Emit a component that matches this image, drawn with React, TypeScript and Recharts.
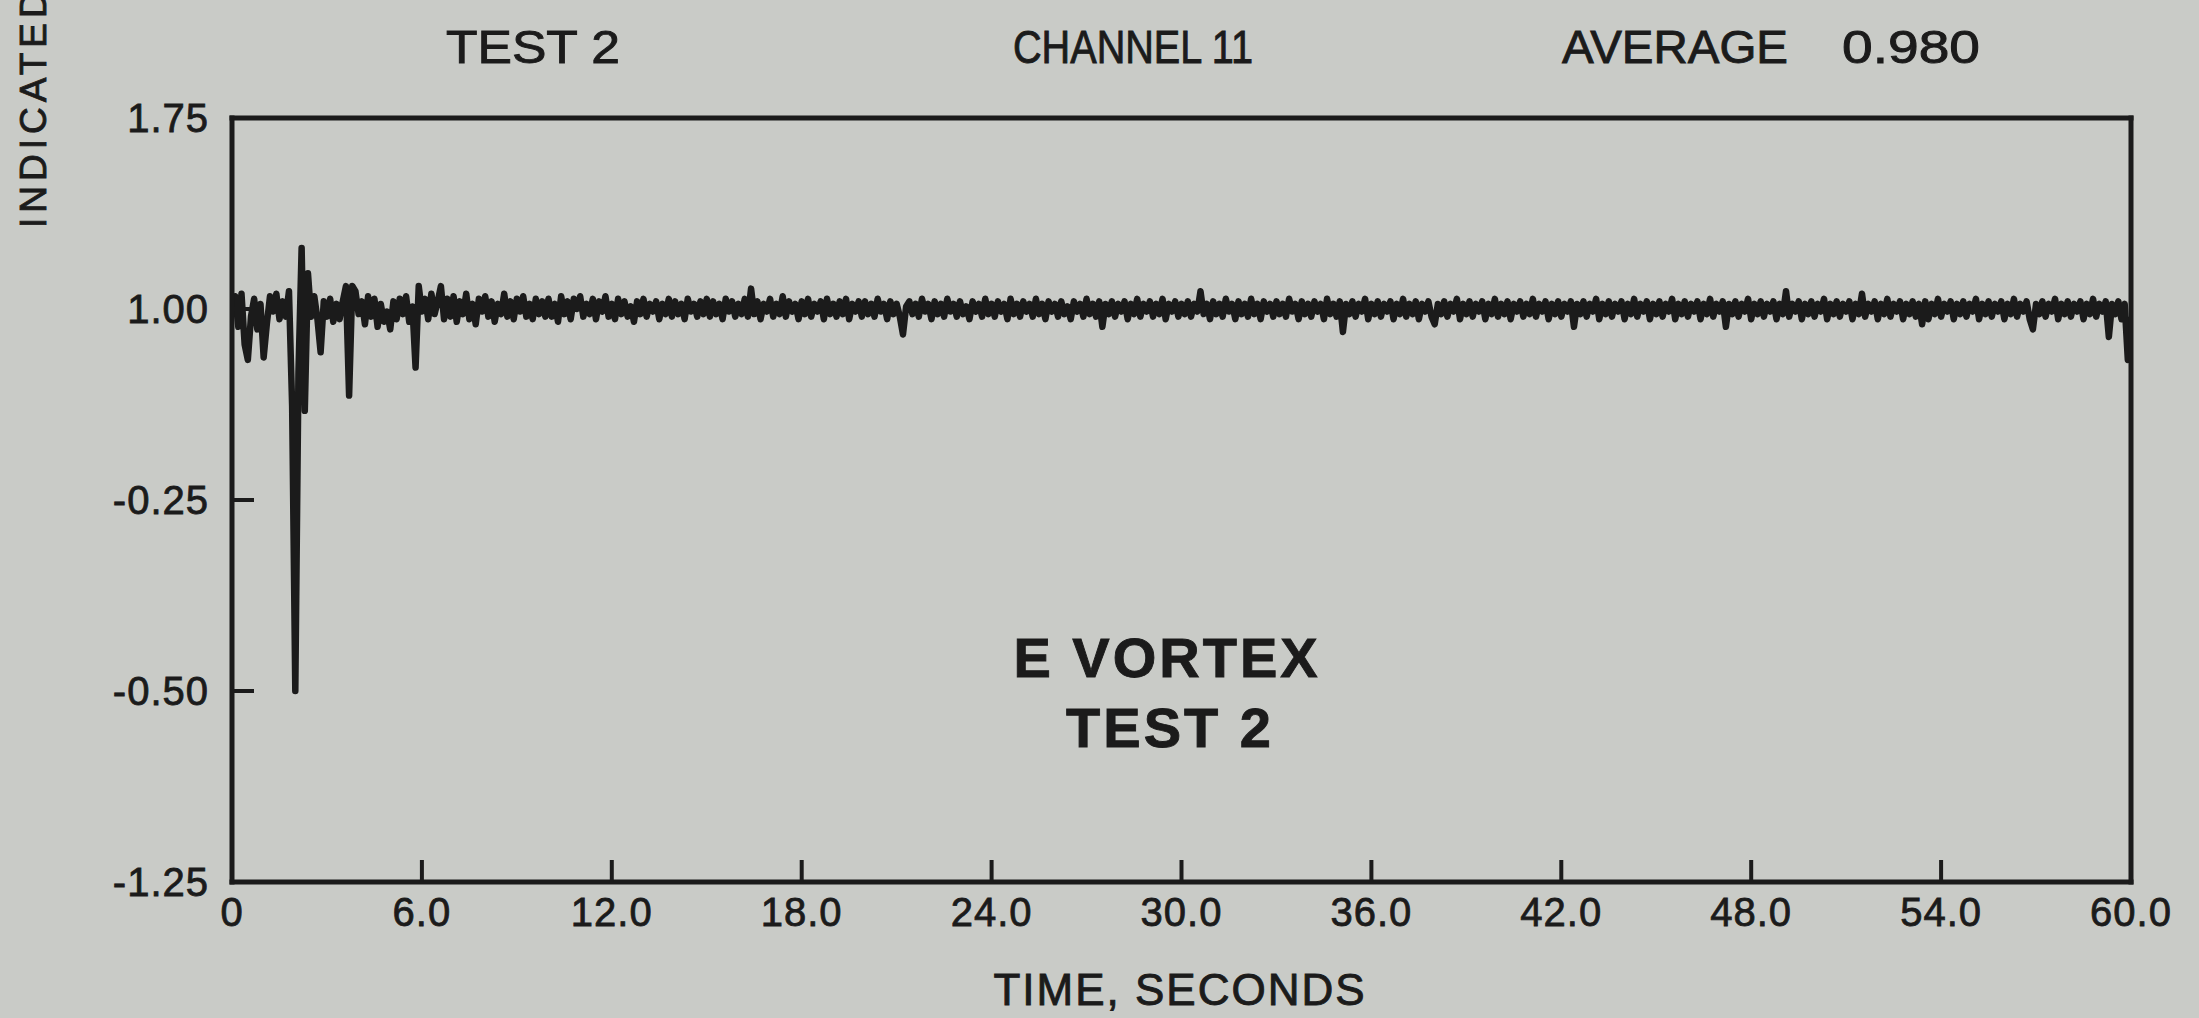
import { LineChart, Line, XAxis, YAxis } from 'recharts'

const SAMPLE_STEP = 0.1

const seg0to10 = [
  1.00, 1.05, 0.93, 1.06, 0.86, 0.80, 0.97, 1.04, 0.92, 1.02,
  0.81, 0.94, 1.05, 0.99, 1.06, 0.96, 1.03, 0.97, 1.07, 0.62,
  -0.50, 0.75, 1.24, 0.60, 1.14, 0.97, 1.05, 0.96, 0.83, 1.03,
  0.97, 1.04, 0.95, 1.02, 0.96, 1.03, 1.09, 0.66, 1.09, 1.07,
  0.98, 1.03, 0.94, 1.05, 0.97, 1.04, 0.93, 1.02, 0.95, 0.99,
  0.92, 1.03, 0.96, 1.04, 0.98, 1.05, 0.95, 1.01, 0.77, 1.09,
  0.99, 1.04, 0.96, 1.06, 0.98, 1.03, 1.09, 0.96, 1.04, 0.97,
  1.05, 0.95, 1.03, 0.98, 1.06, 0.96, 1.02, 0.94, 1.04, 0.99,
  1.05, 0.97, 1.03, 0.95, 1.02, 0.98, 1.06, 0.97, 1.03, 0.96,
  1.04, 0.99, 1.05, 0.97, 1.02, 0.96, 1.04, 0.98, 1.03, 0.97,
]

const seg10to20 = [
  1.04, 0.97, 1.02, 0.95, 1.05, 0.98, 1.03, 0.96, 1.04, 1.00,
  1.05, 0.97, 1.02, 0.98, 1.04, 0.96, 1.03, 0.99, 1.05, 0.97,
  1.02, 0.96, 1.04, 0.98, 1.03, 0.97, 1.01, 0.95, 1.03, 0.98,
  1.04, 0.97, 1.02, 0.99, 1.03, 0.96, 1.02, 0.98, 1.04, 0.97,
  1.03, 0.98, 1.02, 0.96, 1.04, 0.99, 1.02, 0.97, 1.03, 0.98,
  1.04, 0.97, 1.03, 0.98, 1.02, 0.96, 1.04, 0.99, 1.03, 0.97,
  1.02, 0.98, 1.04, 0.97, 1.08, 0.98, 1.03, 0.96, 1.02, 0.99,
  1.04, 0.97, 1.02, 0.98, 1.05, 0.97, 1.03, 0.99, 1.02, 0.96,
  1.03, 0.98, 1.04, 0.97, 1.02, 0.99, 1.03, 0.96, 1.04, 0.98,
  1.02, 0.97, 1.03, 0.98, 1.04, 0.96, 1.02, 0.99, 1.03, 0.97,
]

const seg20to30 = [
  1.03, 0.98, 1.02, 0.97, 1.04, 0.99, 1.02, 0.96, 1.03, 0.98,
  1.02, 0.97, 0.90, 1.01, 1.03, 0.98, 1.02, 0.97, 1.04, 0.99,
  1.02, 0.96, 1.03, 0.98, 1.02, 0.97, 1.04, 0.99, 1.02, 0.97,
  1.03, 0.98, 1.01, 0.96, 1.03, 0.99, 1.02, 0.97, 1.04, 0.98,
  1.02, 0.97, 1.03, 0.99, 1.02, 0.96, 1.04, 0.98, 1.02, 0.97,
  1.03, 0.99, 1.02, 0.97, 1.04, 0.98, 1.02, 0.96, 1.03, 0.99,
  1.02, 0.97, 1.03, 0.98, 1.01, 0.96, 1.03, 0.99, 1.02, 0.97,
  1.04, 0.98, 1.02, 0.97, 1.03, 0.93, 1.02, 0.98, 1.03, 0.97,
  1.02, 0.99, 1.03, 0.96, 1.02, 0.98, 1.04, 0.97, 1.02, 0.99,
  1.03, 0.97, 1.02, 0.98, 1.04, 0.96, 1.02, 0.99, 1.03, 0.97,
]

const seg30to40 = [
  1.02, 0.98, 1.03, 0.97, 1.02, 0.99, 1.07, 0.98, 1.02, 0.96,
  1.03, 0.98, 1.02, 0.97, 1.04, 0.99, 1.02, 0.96, 1.03, 0.98,
  1.02, 0.97, 1.04, 0.98, 1.02, 0.96, 1.03, 0.99, 1.02, 0.97,
  1.03, 0.98, 1.02, 0.97, 1.04, 0.99, 1.02, 0.96, 1.03, 0.98,
  1.02, 0.97, 1.03, 0.99, 1.02, 0.96, 1.04, 0.98, 1.02, 0.97,
  1.03, 0.91, 1.02, 0.98, 1.03, 0.97, 1.02, 0.99, 1.04, 0.96,
  1.02, 0.98, 1.03, 0.97, 1.02, 0.99, 1.03, 0.96, 1.02, 0.98,
  1.04, 0.97, 1.02, 0.98, 1.03, 0.96, 1.02, 0.99, 1.03, 0.97,
  0.94, 1.02, 0.98, 1.03, 0.97, 1.02, 0.99, 1.04, 0.96, 1.02,
  0.98, 1.03, 0.97, 1.02, 0.99, 1.03, 0.96, 1.02, 0.98, 1.04,
]

const seg40to50 = [
  0.97, 1.02, 0.98, 1.03, 0.96, 1.02, 0.99, 1.03, 0.97, 1.02,
  0.98, 1.04, 0.97, 1.02, 0.99, 1.03, 0.96, 1.02, 0.98, 1.03,
  0.97, 1.02, 0.99, 1.03, 0.93, 1.02, 0.98, 1.03, 0.97, 1.02,
  0.99, 1.04, 0.96, 1.02, 0.98, 1.03, 0.97, 1.02, 0.99, 1.03,
  0.96, 1.02, 0.98, 1.04, 0.97, 1.02, 0.99, 1.03, 0.96, 1.02,
  0.98, 1.03, 0.97, 1.02, 0.99, 1.04, 0.96, 1.02, 0.98, 1.03,
  0.97, 1.02, 0.99, 1.03, 0.96, 1.02, 0.98, 1.04, 0.97, 1.02,
  0.99, 1.03, 0.93, 1.02, 0.98, 1.03, 0.97, 1.02, 0.99, 1.04,
  0.96, 1.02, 0.98, 1.03, 0.97, 1.02, 0.99, 1.03, 0.96, 1.02,
  0.98, 1.07, 0.97, 1.02, 0.99, 1.03, 0.96, 1.02, 0.98, 1.03,
]

const seg50to60 = [
  0.97, 1.02, 0.99, 1.04, 0.96, 1.02, 0.98, 1.03, 0.97, 1.02,
  0.99, 1.03, 0.96, 1.02, 0.98, 1.06, 0.97, 1.02, 0.99, 1.03,
  0.96, 1.02, 0.98, 1.04, 0.97, 1.02, 0.99, 1.03, 0.96, 1.02,
  0.98, 1.03, 0.97, 1.02, 0.94, 1.03, 0.96, 1.02, 0.98, 1.04,
  0.97, 1.02, 0.99, 1.03, 0.96, 1.02, 0.98, 1.03, 0.97, 1.02,
  0.99, 1.04, 0.96, 1.02, 0.98, 1.03, 0.97, 1.02, 0.99, 1.03,
  0.96, 1.02, 0.98, 1.04, 0.97, 1.02, 0.99, 1.03, 0.96, 0.92,
  1.02, 0.98, 1.03, 0.97, 1.02, 0.99, 1.04, 0.96, 1.02, 0.98,
  1.03, 0.97, 1.02, 0.99, 1.03, 0.96, 1.02, 0.98, 1.04, 0.97,
  1.02, 0.99, 1.03, 0.89, 1.02, 0.98, 1.03, 0.96, 1.02, 0.80,
  0.97,
]

const xTicks = [0, 6, 12, 18, 24, 30, 36, 42, 48, 54, 60]
const xTickLabels = ['0', '6.0', '12.0', '18.0', '24.0', '30.0', '36.0', '42.0', '48.0', '54.0', '60.0']
const yTicks = [1.75, 1.0, 0.25, -0.5, -1.25]
const yTickLabels = ['1.75', '1.00', '-0.25', '-0.50', '-1.25']

const values = [...seg0to10, ...seg10to20, ...seg20to30, ...seg30to40, ...seg40to50, ...seg50to60]
const data = values.map((v, i) => ({ t: Math.round(i * SAMPLE_STEP * 10) / 10, v }))

// --- Layout ---

const W = 2199
const H = 1018
// plot box: x 232..2131, y 118..882 (axes take 1px each)
const MARGIN = { top: 117, right: 67, bottom: 135, left: 231 }
const INK = '#1b1b1b'
const PAPER = '#c9cbc7'
const FONT = '"Liberation Sans", Arial, Helvetica, sans-serif'

const tickStyle = { fontSize: 40, fill: INK, stroke: INK, strokeWidth: 0.8, fontFamily: FONT, letterSpacing: 1 }
const axisLineStyle = { stroke: INK, strokeWidth: 5, strokeLinecap: 'square' as const }
const tickLineStyle = { stroke: INK, strokeWidth: 4 }

const fmtX = (v: number) => xTickLabels[xTicks.indexOf(v)] ?? String(v)
const fmtY = (v: number) => yTickLabels[yTicks.indexOf(v)] ?? String(v)

export default function App() {
  return (
    <div style={{ position: 'fixed', left: 0, top: 0, width: W, height: H, background: PAPER, overflow: 'hidden' }}>
      <LineChart width={W} height={H} data={data} margin={MARGIN}>
        <XAxis
          dataKey="t"
          type="number"
          domain={[0, 60]}
          ticks={xTicks}
          allowDataOverflow
          height={1}
          interval={0}
          tickFormatter={fmtX}
          tick={tickStyle}
          tickSize={-22}
          tickMargin={38}
          axisLine={axisLineStyle}
          tickLine={tickLineStyle}
        />
        <XAxis
          xAxisId="top"
          orientation="top"
          type="number"
          domain={[0, 60]}
          ticks={xTicks}
          allowDataOverflow
          height={1}
          interval={0}
          tick={false}
          tickSize={-22}
          axisLine={axisLineStyle}
          tickLine={tickLineStyle}
        />
        <YAxis
          type="number"
          domain={[-1.25, 1.75]}
          ticks={yTicks}
          allowDataOverflow
          width={1}
          interval={0}
          tickFormatter={fmtY}
          tick={tickStyle}
          tickSize={-22}
          tickMargin={45}
          axisLine={axisLineStyle}
          tickLine={tickLineStyle}
        />
        <YAxis
          yAxisId="right"
          orientation="right"
          type="number"
          domain={[-1.25, 1.75]}
          ticks={yTicks}
          allowDataOverflow
          width={1}
          interval={0}
          tick={false}
          tickSize={-22}
          axisLine={axisLineStyle}
          tickLine={tickLineStyle}
        />
        <Line
          type="linear"
          dataKey="v"
          stroke={INK}
          strokeWidth={6.5}
          strokeLinejoin="round"
          dot={false}
          activeDot={false}
          isAnimationActive={false}
        />
      </LineChart>

      {/* titles and captions */}
      <svg width={W} height={H} style={{ position: 'absolute', left: 0, top: 0, pointerEvents: 'none' }}>
        <g fill={INK} stroke={INK} strokeWidth={0.9} fontFamily={FONT}>
          <text x={446} y={63} fontSize={46} textLength={174} lengthAdjust="spacingAndGlyphs">TEST 2</text>
          <text x={1013} y={63} fontSize={46} textLength={240} lengthAdjust="spacingAndGlyphs">CHANNEL 11</text>
          <text x={1562} y={63} fontSize={46} textLength={226} lengthAdjust="spacingAndGlyphs">AVERAGE</text>
          <text x={1842} y={63} fontSize={46} textLength={138} lengthAdjust="spacingAndGlyphs">0.980</text>
          <text x={1167} y={677} fontSize={56} fontWeight="bold" letterSpacing={3} textAnchor="middle">E VORTEX</text>
          <text x={1170} y={747} fontSize={56} fontWeight="bold" letterSpacing={3} textAnchor="middle">TEST 2</text>
          <text x={1180} y={1005} fontSize={44} letterSpacing={2} textAnchor="middle">TIME, SECONDS</text>
          <text x={46} y={228} fontSize={37} letterSpacing={5} transform="rotate(-90 46 228)">INDICATED</text>
        </g>
      </svg>
    </div>
  )
}
